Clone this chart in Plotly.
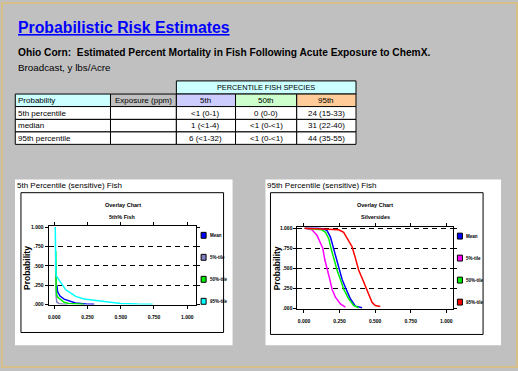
import plotly.graph_objects as go

W, H = 518, 371
def X(p): return p / W
def Y(p): return 1 - p / H

SANS = "Liberation Sans, Arial, sans-serif"

# ---------------- data ----------------
title_text = "Probabilistic Risk Estimates"
subtitle_text = "Ohio Corn:  Estimated Percent Mortality in Fish Following Acute Exposure to ChemX."
subtitle2_text = "Broadcast, y lbs/Acre"

group_header = "PERCENTILE FISH SPECIES"
table_headers = ["Probability", "Exposure (ppm)", "5th", "50th", "95th"]
table_prob = ["5th percentile", "median", "95th percentile"]
table_exposure = ["", "", ""]
table_5th = ["<1 (0-1)", "1 (<1-4)", "6 (<1-32)"]
table_50th = ["0 (0-0)", "<1 (0-<1)", "<1 (0-<1)"]
table_95th = ["24 (15-33)", "31 (22-40)", "44 (35-55)"]

legend_labels = ["Mean", "5%-tile", "50%-tile", "95%-tile"]

# left chart: 5th % Fish
mean_x_L = [0.020, 0.021, 0.025, 0.030, 0.044, 0.074, 0.11, 0.16, 0.24, 0.30]
mean_y_L = [0.25, 0.20, 0.17, 0.15, 0.11, 0.07, 0.045, 0.02, 0.008, 0.005]
p5_x_L = [0.010, 0.010, 0.012, 0.015, 0.020, 0.037, 0.075, 0.10]
p5_y_L = [0.55, 0.45, 0.25, 0.10, 0.03, 0.012, 0.005, 0.003]
p50_x_L = [0.012, 0.012, 0.013, 0.015, 0.018, 0.025, 0.037, 0.055, 0.075, 0.11, 0.15, 0.225]
p50_y_L = [0.69, 0.53, 0.35, 0.22, 0.13, 0.10, 0.08, 0.05, 0.03, 0.015, 0.008, 0.004]
p95_x_L = [0.008, 0.009, 0.012, 0.016, 0.037, 0.062, 0.087, 0.125, 0.162, 0.225, 0.325, 0.425, 0.50, 0.625, 0.74]
p95_y_L = [1.0, 0.62, 0.45, 0.37, 0.32, 0.25, 0.19, 0.148, 0.105, 0.072, 0.05, 0.034, 0.015, 0.006, 0.003]

# right chart: Silversides
mean_x_R = [0.005, 0.10, 0.139, 0.162, 0.186, 0.204, 0.221, 0.244, 0.268, 0.291, 0.326, 0.361, 0.408]
mean_y_R = [1.0, 1.0, 0.99, 0.97, 0.89, 0.77, 0.65, 0.49, 0.36, 0.26, 0.12, 0.028, 0.008]
p5_x_R = [0.005, 0.057, 0.092, 0.116, 0.132, 0.146, 0.162, 0.179, 0.197, 0.221, 0.256, 0.291]
p5_y_R = [1.0, 0.98, 0.91, 0.81, 0.75, 0.61, 0.48, 0.38, 0.24, 0.14, 0.057, 0.016]
p50_x_R = [0.005, 0.104, 0.127, 0.151, 0.174, 0.19, 0.209, 0.232, 0.256, 0.279, 0.314, 0.349, 0.384]
p50_y_R = [1.0, 0.99, 0.98, 0.95, 0.87, 0.75, 0.61, 0.48, 0.36, 0.24, 0.12, 0.037, 0.008]
p95_x_R = [0.005, 0.162, 0.244, 0.279, 0.314, 0.338, 0.361, 0.384, 0.408, 0.431, 0.454, 0.478, 0.501, 0.536]
p95_y_R = [1.0, 0.99, 0.98, 0.95, 0.85, 0.77, 0.63, 0.48, 0.38, 0.28, 0.16, 0.077, 0.037, 0.024]

x_tick_vals = [0, 0.25, 0.5, 0.75, 1.0]
x_tick_text = ["0.000", "0.250", "0.500", "0.750", "1.000"]
y_tick_vals = [0, 0.25, 0.5, 0.75, 1.0]
y_tick_text = [".000", ".250", ".500", ".750", "1.000"]

colors_L = ["#0000ff", "#8080c0", "#00ee00", "#00ffff"]
colors_R = ["#0000ff", "#ff00ff", "#00ee00", "#ff0000"]

# ---------------- figure ----------------
fig = go.Figure()

series_L = [(mean_x_L, mean_y_L), (p5_x_L, p5_y_L), (p50_x_L, p50_y_L), (p95_x_L, p95_y_L)]
series_R = [(mean_x_R, mean_y_R), (p5_x_R, p5_y_R), (p50_x_R, p50_y_R), (p95_x_R, p95_y_R)]
for (xs, ys), c, name in zip(series_L, colors_L, legend_labels):
    fig.add_trace(go.Scatter(x=xs, y=ys, mode="lines", name=name, line=dict(color=c, width=1.5),
                             xaxis="x", yaxis="y", showlegend=False))
for (xs, ys), c, name in zip(series_R, colors_R, legend_labels):
    fig.add_trace(go.Scatter(x=xs, y=ys, mode="lines", name=name, line=dict(color=c, width=1.5),
                             xaxis="x2", yaxis="y2", showlegend=False))

axis_common = dict(showline=True, linecolor="black", linewidth=1, mirror="ticks",
                   ticks="outside", ticklen=3, tickcolor="black", zeroline=False,
                   tickfont=dict(family=SANS, size=5, color="black", weight="bold"))
xa = dict(showgrid=False, tickvals=x_tick_vals, ticktext=x_tick_text, ticklabelstandoff=4, **axis_common)
ya = dict(showgrid=True, gridcolor="black", gridwidth=1, griddash="5px,4px",
          tickvals=y_tick_vals, ticktext=y_tick_text, **axis_common)

fig.update_layout(
    width=W, height=H, margin=dict(l=0, r=0, t=0, b=0),
    paper_bgcolor="#c0c0c0", plot_bgcolor="white", showlegend=False,
    xaxis=dict(domain=[X(47.7), X(195)], range=[-0.042, 1.063], anchor="y", **xa),
    yaxis=dict(domain=[Y(306.7), Y(227.3)], range=[0, 1.01], anchor="x", **ya),
    xaxis2=dict(domain=[X(297), X(453.3)], range=[-0.046, 1.05], anchor="y2", **xa),
    yaxis2=dict(domain=[Y(311), Y(228.3)], range=[-0.005, 1.013], anchor="x2", **ya),
)

shapes = []
ann = []

def rect(x0, x1, y0, y1, fill=None, line_color="black", lw=1, layer="above"):
    d = dict(type="rect", xref="paper", yref="paper", x0=X(x0), x1=X(x1), y0=Y(y1), y1=Y(y0),
             line=dict(color=line_color, width=lw), layer=layer)
    if fill:
        d["fillcolor"] = fill
    if lw == 0:
        d["line"] = dict(width=0)
    return d

def text(t, x, y, size, anchor="left", bold=False, color="black", angle=0):
    f = dict(family=SANS, size=size, color=color)
    if bold:
        f["weight"] = "bold"
    ann.append(dict(text=t, x=X(x), y=Y(y), xanchor=anchor, yanchor="middle", textangle=angle,
                    font=f, xref="paper", yref="paper", showarrow=False))

# page border
shapes.append(rect(1, 517, 1, 370, line_color="#d6c088", lw=2, layer="below"))

# ---- table ----
col_edges = [14.3, 109.7, 175.7, 235.0, 296.3, 355.7]
row_edges = [93.3, 106.0, 119.0, 131.7, 144.3]
group_top = 80.0
header_fills = ["#ccffff", None, "#ccccff", "#ccffcc", "#ffcc99"]
table_cols = [table_prob, table_exposure, table_5th, table_50th, table_95th]
tfont = 8

shapes.append(rect(col_edges[2], col_edges[5], group_top, row_edges[0], fill="#ccffff"))
text(group_header, (col_edges[2] + col_edges[5]) / 2, (group_top + row_edges[0]) / 2 + 0.3, 7.3, anchor="center")
for j in range(5):
    x0, x1 = col_edges[j], col_edges[j + 1]
    shapes.append(rect(x0, x1, row_edges[0], row_edges[1], fill=header_fills[j]))
    cx = x0 + 1.2 if j == 0 else (x0 + x1) / 2
    text(table_headers[j], cx, (row_edges[0] + row_edges[1]) / 2 + 0.3, tfont, anchor="left" if j == 0 else "center")
    for i in range(3):
        y0, y1 = row_edges[i + 1], row_edges[i + 2]
        shapes.append(rect(x0, x1, y0, y1, fill="white"))
        if table_cols[j][i]:
            text(table_cols[j][i], cx, (y0 + y1) / 2 + 0.3, tfont, anchor="left" if j == 0 else "center")

# ---- chart panels ----
for (ox0, ox1, ix0, ix1, iy1) in [(14, 232, 20, 223, 335), (265, 501, 270, 483, 337)]:
    shapes.append(rect(ox0, ox1, 180, 348, fill="white", lw=0, layer="below"))
    shapes.append(rect(ix0, ix1, 193.3, iy1, fill="white", layer="below"))

# legends
for sx, ys0, cols in [(200.5, 236.5, colors_L), (457.3, 237.3, colors_R)]:
    for i, (c, lab) in enumerate(zip(cols, legend_labels)):
        cy = ys0 + i * 22.3
        shapes.append(rect(sx, sx + 5, cy - 3, cy + 3, fill=c))
        text(lab, sx + 7, cy, 4.5, bold=True)

text("<u>" + title_text + "</u>", 15.5, 25.5, 15.8, bold=True, color="#0000ff")
text(subtitle_text, 15.5, 51, 10.2, bold=True)
text(subtitle2_text, 15.5, 66.5, 9.8)
text("5th Percentile (sensitive) Fish", 14.5, 186.5, 8)
text("95th Percentile (sensitive) Fish", 264.5, 186.5, 8)
for cx, sub in [(122, "5th% Fish"), (375, "Silversides")]:
    text("Overlay Chart", cx, 205.7, 5.5, anchor="center", bold=True)
    text(sub, cx, 218, 5.5, anchor="center", bold=True)
for cx in [26.7, 276.5]:
    text("Probability", cx, 270, 8.5, anchor="center", bold=True, angle=-90)

fig.update_layout(shapes=shapes, annotations=ann)

fig.write_html("out.html", config={"displayModeBar": False},
               post_script="document.body.style.margin='0';document.body.style.overflow='hidden';")
